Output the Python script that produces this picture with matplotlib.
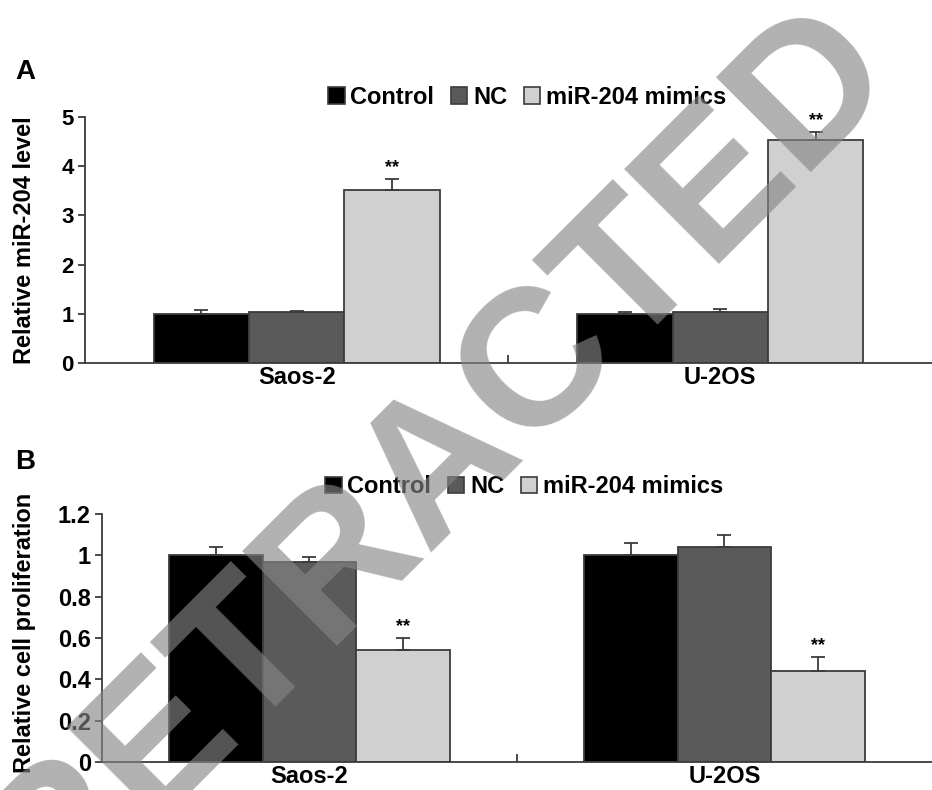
import matplotlib
matplotlib.use("Agg")
import matplotlib.pyplot as plt
from matplotlib.patches import Patch
import numpy as np

plt.rcParams['font.family'] = ['Liberation Sans', 'DejaVu Sans']
plt.rcParams['font.weight'] = 'bold'

cells = ["Saos-2", "U-2OS"]
groups = ["Control", "NC", "miR-204 mimics"]
colors = ["#000000", "#5a5a5a", "#d0d0d0"]
edge = "#3c3c3c"

# panel A: relative miR-204 level
mir_vals = [[1.00, 1.00], [1.03, 1.03], [3.52, 4.53]]
mir_err = [[0.07, 0.03], [0.03, 0.07], [0.22, 0.16]]
mir_sig = [[False, False], [False, False], [True, True]]

# panel B: relative cell proliferation
pro_vals = [[1.00, 1.00], [0.97, 1.04], [0.54, 0.44]]
pro_err = [[0.04, 0.06], [0.02, 0.06], [0.06, 0.07]]
pro_sig = [[False, False], [False, False], [True, True]]

fig = plt.figure(figsize=(9.32, 7.9), dpi=100)
axA = fig.add_axes([0.0912, 0.5405, 0.9088, 0.3114])
axB = fig.add_axes([0.1094, 0.0354, 0.8906, 0.3140])

w = 0.225
x = np.arange(len(cells))


def draw(ax, vals, errs, sig, ymax, yticks, ylabels, ylab, tsize):
    for i in range(len(groups)):
        xs = x + (i - 1) * w
        ax.bar(xs, vals[i], width=w, color=colors[i], edgecolor=edge, linewidth=1.3, zorder=2)
        ax.errorbar(xs, vals[i], yerr=[np.zeros(len(xs)), errs[i]], fmt='none',
                    ecolor=edge, elinewidth=1.3, capsize=5, capthick=1.3, zorder=3)
        for j in range(len(xs)):
            if sig[i][j]:
                ax.annotate("**", (xs[j], vals[i][j] + errs[i][j]), xytext=(0, 2),
                            textcoords='offset points', ha='center', va='bottom',
                            fontsize=13, fontweight='bold', annotation_clip=False)
    ax.set_xlim(-0.5, 1.5)
    ax.set_ylim(0, ymax)
    ax.spines['top'].set_visible(False)
    ax.spines['right'].set_visible(False)
    for s in ['left', 'bottom']:
        ax.spines[s].set_color(edge)
        ax.spines[s].set_linewidth(1.3)
    ax.set_yticks(yticks)
    ax.set_yticklabels(ylabels, fontsize=tsize, fontweight='bold')
    ax.tick_params(axis='y', direction='out', length=5, width=1.3, color=edge, pad=3)
    ax.set_xticks(x)
    ax.set_xticklabels(cells, fontsize=17, fontweight='bold')
    ax.tick_params(axis='x', which='major', length=0, pad=2)
    ax.set_xticks([0.5], minor=True)
    ax.tick_params(axis='x', which='minor', direction='in', length=6, width=1.3, color=edge)
    ax.set_ylabel(ylab, fontsize=17, fontweight='bold')


draw(axA, mir_vals, mir_err, mir_sig, 5, [0, 1, 2, 3, 4, 5],
     ["0", "1", "2", "3", "4", "5"], "Relative miR-204 level", 16)
draw(axB, pro_vals, pro_err, pro_sig, 1.2, [0, 0.2, 0.4, 0.6, 0.8, 1.0, 1.2],
     ["0", "0.2", "0.4", "0.6", "0.8", "1", "1.2"], "Relative cell proliferation", 17)
axA.yaxis.set_label_coords(-0.058, 0.5)
axB.yaxis.set_label_coords(-0.079, 0.52)

handles = [Patch(facecolor=c, edgecolor=edge, linewidth=1.2) for c in colors]
for yy, xx in [(1 - 97 / 790, 328 / 932), (1 - 487 / 790, 325 / 932)]:
    fig.legend(handles, groups, loc='center left', bbox_to_anchor=(xx, yy), ncol=3,
               frameon=False, handlelength=0.7, handleheight=0.7, handletextpad=0.25,
               columnspacing=0.7, borderpad=0, borderaxespad=0,
               prop={'size': 17, 'weight': 'bold'})

fig.text(15 / 932, 1 - 72 / 790, "A", fontsize=20, fontweight='bold', va='center')
fig.text(15 / 932, 1 - 462 / 790, "B", fontsize=20, fontweight='bold', va='center')

fig.text(474 / 932, 1 - 497 / 790, "RETRACTED", rotation=45, rotation_mode='anchor',
         ha='center', va='baseline', fontsize=140, fontweight='bold',
         color='#858585', alpha=0.64, zorder=10)

fig.savefig("out.png", dpi=100)
